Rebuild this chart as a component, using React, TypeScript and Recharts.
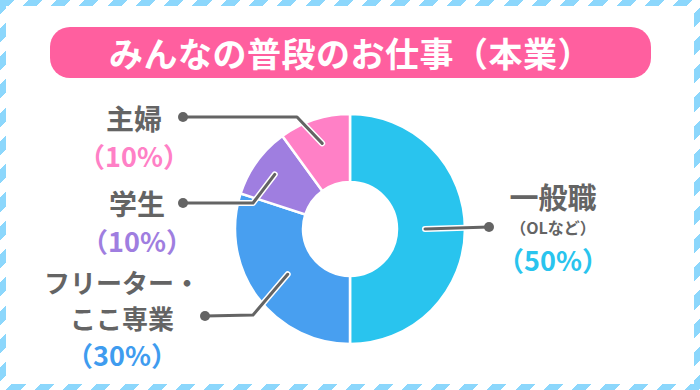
import React from 'react';
import { PieChart, Pie, Cell } from 'recharts';

// slices clockwise from 12 o'clock
const jobNames = ['一般職', 'フリーター・ここ専業', '学生', '主婦'];
const jobShares = [50, 30, 10, 10];
const nameLines = [['一般職'], ['フリーター・', 'ここ専業'], ['学生'], ['主婦']];
const nameNotes = ['（OLなど）', '', '', ''];
const sliceColors = ['#29c4ee', '#489ff0', '#9f7ee0', '#ff80c6'];
const pctColors = ['#29c4ee', '#3f9cef', '#9f7ee0', '#ff80c6'];

const TITLE = 'みんなの普段のお仕事（本業）';
const FONT = '"Noto Sans CJK JP", "Noto Sans", sans-serif';
const GRAY = '#646464';
const RADIAN = Math.PI / 180;

const pieData = jobNames.map((name, i) => ({ name, value: jobShares[i] }));

// leader/label layout, offsets from the pie centre
const layout = [
  { r: 75, elbow: null, dot: [139, -2], tx: 203, ty: -33, nameSize: 29, gap: 36 },
  { r: 77, elbow: [-97, 86], dot: [-145, 87], tx: -228, ty: 52, nameSize: 26, gap: 36 },
  { r: 93, elbow: [-97, -26], dot: [-167, -26], tx: -213, ty: -26, nameSize: 28, gap: 36 },
  { r: 90, elbow: [-53, -112], dot: [-167, -112], tx: -216, ty: -111, nameSize: 28, gap: 36 },
];

const renderLabel = (props: any) => {
  const { cx, cy, midAngle, index, value } = props;
  const l = layout[index];
  const ax = cx + l.r * Math.cos(-midAngle * RADIAN);
  const ay = cy + l.r * Math.sin(-midAngle * RADIAN);
  const pts = [[ax, ay]];
  if (l.elbow) pts.push([cx + l.elbow[0], cy + l.elbow[1]]);
  pts.push([cx + l.dot[0], cy + l.dot[1]]);
  const ptStr = pts.map((p) => p.join(',')).join(' ');
  const lines = nameLines[index];
  const note = nameNotes[index];
  const x = cx + l.tx;
  let y = cy + l.ty;
  const els: any[] = [];
  lines.forEach((t, k) => {
    els.push(
      <text key={'n' + k} x={x} y={y} textAnchor="middle" dominantBaseline="central"
        fill={GRAY} fontSize={l.nameSize} fontWeight={700} fontFamily={FONT}>{t}</text>
    );
    y += k < lines.length - 1 ? l.gap : 0;
  });
  if (note) {
    y += 31;
    els.push(
      <text key="note" x={x} y={y} textAnchor="middle" dominantBaseline="central"
        fill={GRAY} fontSize={16} fontWeight={700} fontFamily={FONT}>{note}</text>
    );
    y += 32;
  } else {
    y += 37;
  }
  els.push(
    <text key="pct" x={x} y={y} textAnchor="middle" dominantBaseline="central"
      fill={pctColors[index]} fontSize={27} fontWeight={700} fontFamily={FONT}>{`（${value}%）`}</text>
  );
  return (
    <g key={'lbl' + index}>
      <polyline points={ptStr} fill="none" stroke="#fff" strokeWidth={6} strokeLinecap="round" strokeLinejoin="round" />
      <polyline points={ptStr} fill="none" stroke={GRAY} strokeWidth={3} strokeLinecap="round" strokeLinejoin="round" />
      <circle cx={cx + l.dot[0]} cy={cy + l.dot[1]} r={5} fill={GRAY} />
      {els}
    </g>
  );
};

export default function App() {
  return (
    <div
      style={{
        position: 'absolute',
        left: 0,
        top: 0,
        width: 700,
        height: 390,
        background: 'repeating-linear-gradient(135deg, #8cd7fc 0 10px, #fff 10px 20px)',
        fontFamily: FONT,
      }}
    >
      <div style={{ position: 'absolute', left: 6, top: 6, right: 6, bottom: 6, background: '#fff' }} />
      <div
        style={{
          position: 'absolute',
          left: 50,
          top: 27,
          width: 601,
          height: 51,
          borderRadius: 20,
          background: '#ff5f9f',
          color: '#fff',
          fontSize: 34,
          fontWeight: 700,
          lineHeight: '51px',
          textAlign: 'center',
          letterSpacing: 0.5,
        }}
      >
        {TITLE}
      </div>
      <div style={{ position: 'absolute', left: 0, top: 0 }}>
        <PieChart width={700} height={390} margin={{ top: 0, right: 0, bottom: 0, left: 0 }}>
          <Pie
            data={pieData}
            dataKey="value"
            nameKey="name"
            cx={350}
            cy={229}
            innerRadius={47}
            outerRadius={115}
            startAngle={90}
            endAngle={-270}
            stroke="#fff"
            strokeWidth={2.5}
            label={renderLabel}
            labelLine={false}
            isAnimationActive={false}
          >
            {pieData.map((d, i) => (
              <Cell key={d.name} fill={sliceColors[i]} />
            ))}
          </Pie>
        </PieChart>
      </div>
    </div>
  );
}
